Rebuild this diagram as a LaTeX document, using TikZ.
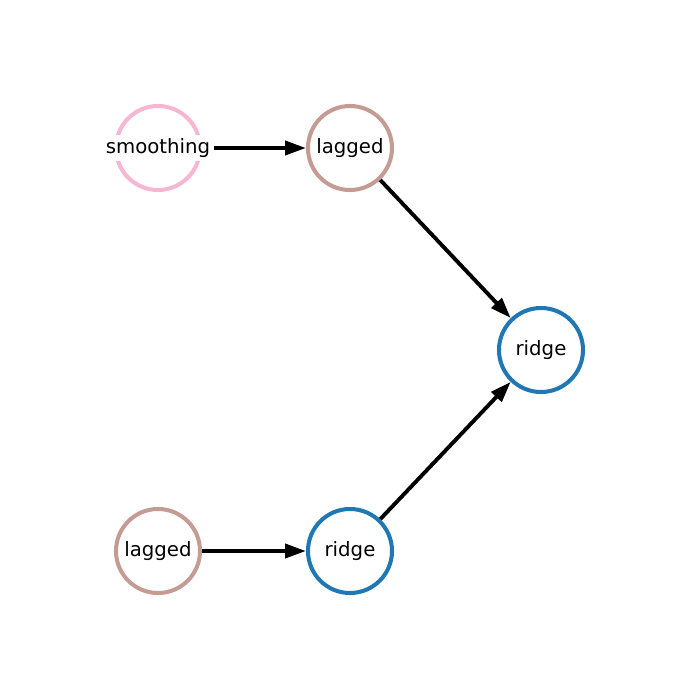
\documentclass[tikz,border=0pt]{standalone}
\usepackage{fontspec}
\setmainfont{DejaVu Sans}
\usetikzlibrary{arrows.meta}
\definecolor{cpink}{HTML}{F7B6D2}
\definecolor{cbrown}{HTML}{C49C94}
\definecolor{cblue}{HTML}{1F77B4}
\begin{document}
\begin{tikzpicture}[x=0.72pt,y=-0.72pt,
  vertex/.style={circle,draw=#1,line width=2.9pt,fill=white,minimum size=60.5pt,inner sep=0pt},
  lbl/.style={fill=white,inner sep=2.5pt,font=\fontsize{14.2}{16}\selectfont},
  link/.style={line width=2.8pt,-{Triangle[length=15pt,width=10pt]}}]
\useasboundingbox (0,0) rectangle (700,700);
% circles
\node[vertex=cpink]  (s)  at (158,148) {};
\node[vertex=cbrown] (l1) at (350,148) {};
\node[vertex=cblue]  (r1) at (541,350) {};
\node[vertex=cbrown] (l2) at (158,551) {};
\node[vertex=cblue]  (r2) at (350,551) {};
% edges
\draw[link] (s) -- (l1);
\draw[link] (l1) -- (r1);
\draw[link] (l2) -- (r2);
\draw[link] (r2) -- (r1);
% labels on white boxes
\node[lbl] (ts)  at (s)  {smoothing};
\node[lbl] (tl1) at (l1) {lagged};
\node[lbl] (tr1) at (r1) {ridge};
\node[lbl] (tl2) at (l2) {lagged};
\node[lbl] (tr2) at (r2) {ridge};
\end{tikzpicture}
\end{document}
